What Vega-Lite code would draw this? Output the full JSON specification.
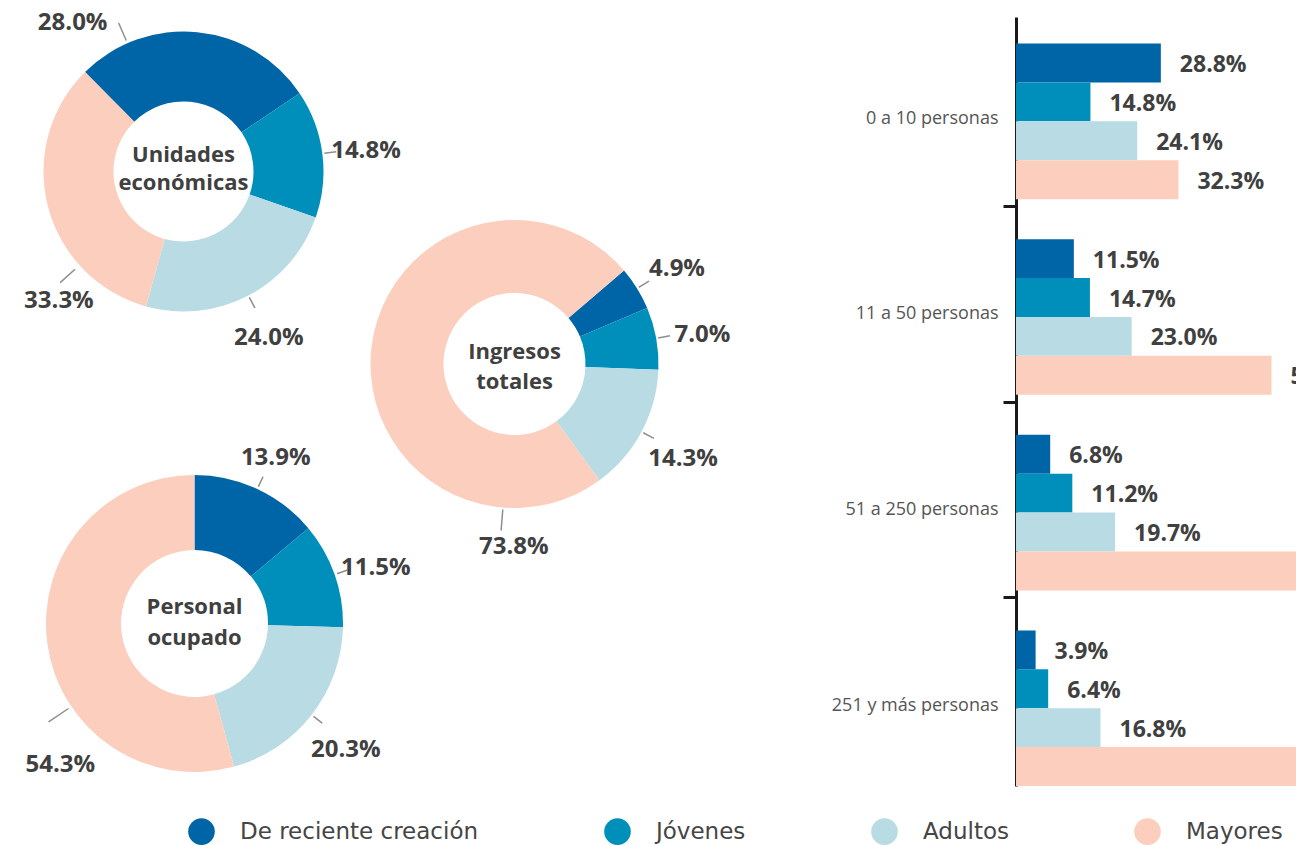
{
  "$schema": "https://vega.github.io/schema/vega-lite/v6.json",
  "usermeta": {"embedOptions": {"actions": false}},
  "padding": 0,
  "background": "white",
  "datasets": {
    "donuts": [
      {"chart": "Unidades económicas", "series": "De reciente creación", "rank": 1, "share": 0.280},
      {"chart": "Unidades económicas", "series": "Jóvenes", "rank": 2, "share": 0.148},
      {"chart": "Unidades económicas", "series": "Adultos", "rank": 3, "share": 0.240},
      {"chart": "Unidades económicas", "series": "Mayores", "rank": 4, "share": 0.333},
      {"chart": "Ingresos totales", "series": "De reciente creación", "rank": 1, "share": 0.049},
      {"chart": "Ingresos totales", "series": "Jóvenes", "rank": 2, "share": 0.070},
      {"chart": "Ingresos totales", "series": "Adultos", "rank": 3, "share": 0.143},
      {"chart": "Ingresos totales", "series": "Mayores", "rank": 4, "share": 0.738},
      {"chart": "Personal ocupado", "series": "De reciente creación", "rank": 1, "share": 0.139},
      {"chart": "Personal ocupado", "series": "Jóvenes", "rank": 2, "share": 0.115},
      {"chart": "Personal ocupado", "series": "Adultos", "rank": 3, "share": 0.203},
      {"chart": "Personal ocupado", "series": "Mayores", "rank": 4, "share": 0.543}
    ],
    "bars": [
      {"size": "0 a 10 personas", "series": "De reciente creación", "share": 0.288},
      {"size": "0 a 10 personas", "series": "Jóvenes", "share": 0.148},
      {"size": "0 a 10 personas", "series": "Adultos", "share": 0.241},
      {"size": "0 a 10 personas", "series": "Mayores", "share": 0.323},
      {"size": "11 a 50 personas", "series": "De reciente creación", "share": 0.115},
      {"size": "11 a 50 personas", "series": "Jóvenes", "share": 0.147},
      {"size": "11 a 50 personas", "series": "Adultos", "share": 0.230},
      {"size": "11 a 50 personas", "series": "Mayores", "share": 0.508},
      {"size": "51 a 250 personas", "series": "De reciente creación", "share": 0.068},
      {"size": "51 a 250 personas", "series": "Jóvenes", "share": 0.112},
      {"size": "51 a 250 personas", "series": "Adultos", "share": 0.197},
      {"size": "51 a 250 personas", "series": "Mayores", "share": 0.623},
      {"size": "251 y más personas", "series": "De reciente creación", "share": 0.039},
      {"size": "251 y más personas", "series": "Jóvenes", "share": 0.064},
      {"size": "251 y más personas", "series": "Adultos", "share": 0.168},
      {"size": "251 y más personas", "series": "Mayores", "share": 0.729}
    ]
  },
  "hconcat": [
    {
      "hconcat": [
        {
          "vconcat": [
            {
              "width": 367,
              "height": 343,
              "data": {"name": "donuts"},
              "transform": [{"filter": "datum.chart === 'Unidades económicas'"}],
              "layer": [
                {
                  "mark": {"type": "arc", "radius": 140, "radius2": 70},
                  "encoding": {
                    "theta": {"field": "share", "type": "quantitative", "stack": true, "scale": {"range": [-0.7802, 5.503]}},
                    "order": {"field": "rank", "type": "quantitative"},
                    "color": {
                      "field": "series", "type": "nominal",
                      "scale": {"domain": ["De reciente creación", "Jóvenes", "Adultos", "Mayores"], "range": ["#0065A6", "#008FBB", "#B8DBE4", "#FBCEBE"]},
                      "legend": {
                        "title": null, "symbolType": "circle",
                        "encode": {"symbols": {"update": {"fill": [{"test": "datum.value === 'Jóvenes'", "value": "#5EBBD1"}, {"scale": "color", "field": "value"}]}}}
                      }
                    }
                  }
                },
                {
                  "transform": [{"filter": "datum.rank === 2 || datum.rank === 3"}],
                  "mark": {"type": "arc", "radius": 154, "radius2": 142, "padAngle": 3, "fillOpacity": 0, "stroke": "#8e8e8e", "strokeWidth": 1.5, "thetaOffset": 1.7575, "theta2Offset": 1.7575},
                  "encoding": {
                    "theta": {"field": "share", "type": "quantitative", "stack": true},
                    "order": {"field": "rank", "type": "quantitative"}
                  }
                },
                {
                  "transform": [{"filter": "datum.rank === 1"}],
                  "mark": {"type": "arc", "radius": 162, "radius2": 143, "padAngle": 3, "fillOpacity": 0, "stroke": "#8e8e8e", "strokeWidth": 1.5, "thetaOffset": -0.5105, "theta2Offset": -0.5105},
                  "encoding": {
                    "theta": {"field": "share", "type": "quantitative", "stack": true},
                    "order": {"field": "rank", "type": "quantitative"}
                  }
                },
                {
                  "transform": [{"filter": "datum.rank === 4"}],
                  "mark": {"type": "arc", "radius": 166, "radius2": 146, "padAngle": 3, "fillOpacity": 0, "stroke": "#8e8e8e", "strokeWidth": 1.5, "thetaOffset": 3.7144, "theta2Offset": 3.7144},
                  "encoding": {
                    "theta": {"field": "share", "type": "quantitative", "stack": true},
                    "order": {"field": "rank", "type": "quantitative"}
                  }
                },
                {
                  "transform": [{"filter": "datum.rank === 2 || datum.rank === 3"}],
                  "mark": {"type": "text", "radius": 184, "thetaOffset": 1.7575, "dy": 3, "font": "Open Sans", "fontWeight": "bold", "fontSize": 24, "color": "#404040", "align": "center", "baseline": "middle"},
                  "encoding": {
                    "theta": {"field": "share", "type": "quantitative", "stack": true},
                    "order": {"field": "rank", "type": "quantitative"},
                    "text": {"field": "share", "type": "quantitative", "format": ".1%"}
                  }
                },
                {
                  "transform": [{"filter": "datum.rank === 1"}],
                  "mark": {"type": "text", "radius": 185, "thetaOffset": -0.7409, "font": "Open Sans", "fontWeight": "bold", "fontSize": 24, "color": "#404040", "align": "center", "baseline": "middle"},
                  "encoding": {
                    "theta": {"field": "share", "type": "quantitative", "stack": true},
                    "order": {"field": "rank", "type": "quantitative"},
                    "text": {"field": "share", "type": "quantitative", "format": ".1%"}
                  }
                },
                {
                  "transform": [{"filter": "datum.rank === 4"}],
                  "mark": {"type": "text", "radius": 180, "thetaOffset": 3.6411, "font": "Open Sans", "fontWeight": "bold", "fontSize": 24, "color": "#404040", "align": "center", "baseline": "middle"},
                  "encoding": {
                    "theta": {"field": "share", "type": "quantitative", "stack": true},
                    "order": {"field": "rank", "type": "quantitative"},
                    "text": {"field": "share", "type": "quantitative", "format": ".1%"}
                  }
                },
                {
                  "transform": [{"aggregate": [{"op": "count", "as": "n"}], "groupby": ["chart"]}],
                  "mark": {"type": "text", "font": "Open Sans", "fontWeight": "bold", "fontSize": 22, "lineHeight": 28, "lineBreak": " ", "color": "#404040", "align": "center", "baseline": "middle", "dy": -16.5},
                  "encoding": {"text": {"field": "chart", "type": "nominal"}}
                }
              ]
            },
            {
              "width": 389,
              "height": 441,
              "data": {"name": "donuts"},
              "transform": [{"filter": "datum.chart === 'Personal ocupado'"}],
              "layer": [
                {
                  "mark": {"type": "arc", "radius": 148.5, "radius2": 73.5},
                  "encoding": {
                    "theta": {"field": "share", "type": "quantitative", "stack": true},
                    "order": {"field": "rank", "type": "quantitative"},
                    "color": {
                      "field": "series", "type": "nominal",
                      "scale": {"domain": ["De reciente creación", "Jóvenes", "Adultos", "Mayores"], "range": ["#0065A6", "#008FBB", "#B8DBE4", "#FBCEBE"]},
                      "legend": {
                        "title": null, "symbolType": "circle",
                        "encode": {"symbols": {"update": {"fill": [{"test": "datum.value === 'Jóvenes'", "value": "#5EBBD1"}, {"scale": "color", "field": "value"}]}}}
                      }
                    }
                  }
                },
                {
                  "transform": [{"filter": "datum.rank <= 3"}],
                  "mark": {"type": "arc", "radius": 162, "radius2": 151, "padAngle": 3, "fillOpacity": 0, "stroke": "#8e8e8e", "strokeWidth": 1.5},
                  "encoding": {
                    "theta": {"field": "share", "type": "quantitative", "stack": true},
                    "order": {"field": "rank", "type": "quantitative"}
                  }
                },
                {
                  "transform": [{"filter": "datum.rank === 1"}],
                  "mark": {"type": "arc", "radius": 176, "radius2": 152, "padAngle": 3, "fillOpacity": 0, "stroke": "#8e8e8e", "strokeWidth": 1.5, "thetaOffset": 3.6823, "theta2Offset": 3.6823},
                  "encoding": {
                    "theta": {"field": "share", "type": "quantitative", "stack": true},
                    "order": {"field": "rank", "type": "quantitative"}
                  }
                },
                {
                  "transform": [{"filter": "datum.rank <= 3"}],
                  "mark": {"type": "text", "radius": 192, "dy": 8, "font": "Open Sans", "fontWeight": "bold", "fontSize": 24, "color": "#404040", "align": "center", "baseline": "middle"},
                  "encoding": {
                    "theta": {"field": "share", "type": "quantitative", "stack": true},
                    "order": {"field": "rank", "type": "quantitative"},
                    "text": {"field": "share", "type": "quantitative", "format": ".1%"}
                  }
                },
                {
                  "transform": [{"filter": "datum.rank === 4"}],
                  "mark": {"type": "text", "radius": 195, "thetaOffset": 2.1949, "font": "Open Sans", "fontWeight": "bold", "fontSize": 24, "color": "#404040", "align": "center", "baseline": "middle"},
                  "encoding": {
                    "theta": {"field": "share", "type": "quantitative", "stack": true},
                    "order": {"field": "rank", "type": "quantitative"},
                    "text": {"field": "share", "type": "quantitative", "format": ".1%"}
                  }
                },
                {
                  "transform": [{"aggregate": [{"op": "count", "as": "n"}], "groupby": ["chart"]}],
                  "mark": {"type": "text", "font": "Open Sans", "fontWeight": "bold", "fontSize": 22, "lineHeight": 31, "lineBreak": " ", "color": "#404040", "align": "center", "baseline": "middle", "dy": -16.5},
                  "encoding": {"text": {"field": "chart", "type": "nominal"}}
                }
              ]
            }
          ],
          "spacing": 60,
          "bounds": "flush",
          "resolve": {"scale": {"theta": "independent"}}
        },
        {
          "width": 251,
          "height": 728,
          "data": {"name": "donuts"},
          "transform": [{"filter": "datum.chart === 'Ingresos totales'"}],
          "layer": [
            {
              "mark": {"type": "arc", "radius": 144, "radius2": 71},
              "encoding": {
                "theta": {"field": "share", "type": "quantitative", "stack": true, "scale": {"range": [0.8639, 7.1471]}},
                "order": {"field": "rank", "type": "quantitative"},
                "color": {
                  "field": "series", "type": "nominal",
                  "scale": {"domain": ["De reciente creación", "Jóvenes", "Adultos", "Mayores"], "range": ["#0065A6", "#008FBB", "#B8DBE4", "#FBCEBE"]},
                  "legend": {
                    "title": null, "symbolType": "circle",
                    "encode": {"symbols": {"update": {"fill": [{"test": "datum.value === 'Jóvenes'", "value": "#5EBBD1"}, {"scale": "color", "field": "value"}]}}}
                  }
                }
              }
            },
            {
              "transform": [{"filter": "datum.rank <= 3"}],
              "mark": {"type": "arc", "radius": 158, "radius2": 146, "padAngle": 3, "fillOpacity": 0, "stroke": "#8e8e8e", "strokeWidth": 1.5},
              "encoding": {
                "theta": {"field": "share", "type": "quantitative", "stack": true},
                "order": {"field": "rank", "type": "quantitative"}
              }
            },
            {
              "transform": [{"filter": "datum.rank === 1"}],
              "mark": {"type": "arc", "radius": 167, "radius2": 146, "padAngle": 3, "fillOpacity": 0, "stroke": "#8e8e8e", "strokeWidth": 1.5, "thetaOffset": 2.204, "theta2Offset": 2.204},
              "encoding": {
                "theta": {"field": "share", "type": "quantitative", "stack": true},
                "order": {"field": "rank", "type": "quantitative"}
              }
            },
            {
              "transform": [{"filter": "datum.rank <= 3"}],
              "mark": {"type": "text", "radius": 191, "dy": 5, "font": "Open Sans", "fontWeight": "bold", "fontSize": 24, "color": "#404040", "align": "center", "baseline": "middle"},
              "encoding": {
                "theta": {"field": "share", "type": "quantitative", "stack": true},
                "order": {"field": "rank", "type": "quantitative"},
                "text": {"field": "share", "type": "quantitative", "format": ".1%"}
              }
            },
            {
              "transform": [{"filter": "datum.rank === 4"}],
              "mark": {"type": "text", "radius": 183, "thetaOffset": -0.0373, "font": "Open Sans", "fontWeight": "bold", "fontSize": 24, "color": "#404040", "align": "center", "baseline": "middle"},
              "encoding": {
                "theta": {"field": "share", "type": "quantitative", "stack": true},
                "order": {"field": "rank", "type": "quantitative"},
                "text": {"field": "share", "type": "quantitative", "format": ".1%"}
              }
            },
            {
              "transform": [{"aggregate": [{"op": "count", "as": "n"}], "groupby": ["chart"]}],
              "mark": {"type": "text", "font": "Open Sans", "fontWeight": "bold", "fontSize": 22, "lineHeight": 30, "lineBreak": " ", "color": "#404040", "align": "center", "baseline": "middle", "dy": -12},
              "encoding": {"text": {"field": "chart", "type": "nominal"}}
            }
          ]
        }
      ],
      "spacing": 389,
      "bounds": "flush",
      "resolve": {"scale": {"theta": "independent"}}
    },
    {
      "width": 280,
      "height": 786,
      "data": {"name": "bars"},
      "encoding": {
        "y": {
          "field": "size", "type": "nominal",
          "sort": ["0 a 10 personas", "11 a 50 personas", "51 a 250 personas", "251 y más personas"],
          "scale": {"range": [17, 786], "paddingInner": 0.205, "paddingOuter": 0.068, "align": 1},
          "axis": {
            "title": null, "grid": false,
            "domainColor": "#1a1a1a", "domainWidth": 3,
            "tickColor": "#1a1a1a", "tickWidth": 3, "tickSize": 13,
            "bandPosition": 1, "tickOffset": 7, "labelOffset": -10, "labelPadding": 5,
            "labelFont": "Open Sans", "labelFontSize": 18, "labelColor": "#555555", "labelLimit": 300,
            "tickOpacity": {"condition": {"test": "datum.value === '251 y más personas'", "value": 0}, "value": 1}
          }
        },
        "yOffset": {
          "field": "series", "type": "nominal",
          "sort": ["De reciente creación", "Jóvenes", "Adultos", "Mayores"],
          "scale": {"paddingInner": 0, "paddingOuter": 0}
        },
        "x": {"field": "share", "type": "quantitative", "scale": {"domain": [0, 0.5567], "nice": false}, "axis": null}
      },
      "layer": [
        {
          "mark": {"type": "bar", "clip": true},
          "encoding": {
            "color": {
              "field": "series", "type": "nominal",
              "scale": {"domain": ["De reciente creación", "Jóvenes", "Adultos", "Mayores"], "range": ["#0065A6", "#008FBB", "#B8DBE4", "#FBCEBE"]},
              "legend": {
                "title": null, "symbolType": "circle",
                "encode": {"symbols": {"update": {"fill": [{"test": "datum.value === 'Jóvenes'", "value": "#5EBBD1"}, {"scale": "color", "field": "value"}]}}}
              }
            }
          }
        },
        {
          "mark": {"type": "text", "clip": true, "align": "left", "baseline": "middle", "dx": 19, "dy": 2, "font": "Open Sans", "fontWeight": "bold", "fontSize": 23, "color": "#404040"},
          "encoding": {"text": {"field": "share", "type": "quantitative", "format": ".1%"}}
        }
      ]
    }
  ],
  "spacing": 1016,
  "bounds": "flush",
  "resolve": {"scale": {"theta": "independent"}},
  "config": {
    "view": {"stroke": null},
    "font": "Open Sans",
    "legend": {
      "orient": "none", "legendX": 188, "legendY": 818,
      "direction": "horizontal", "columns": 4, "columnPadding": 125, "padding": 0,
      "symbolSize": 710, "symbolStrokeWidth": 0,
      "labelFont": "DejaVu Sans", "labelFontSize": 23, "labelColor": "#454545", "labelOffset": 25, "labelLimit": 400
    }
  }
}
